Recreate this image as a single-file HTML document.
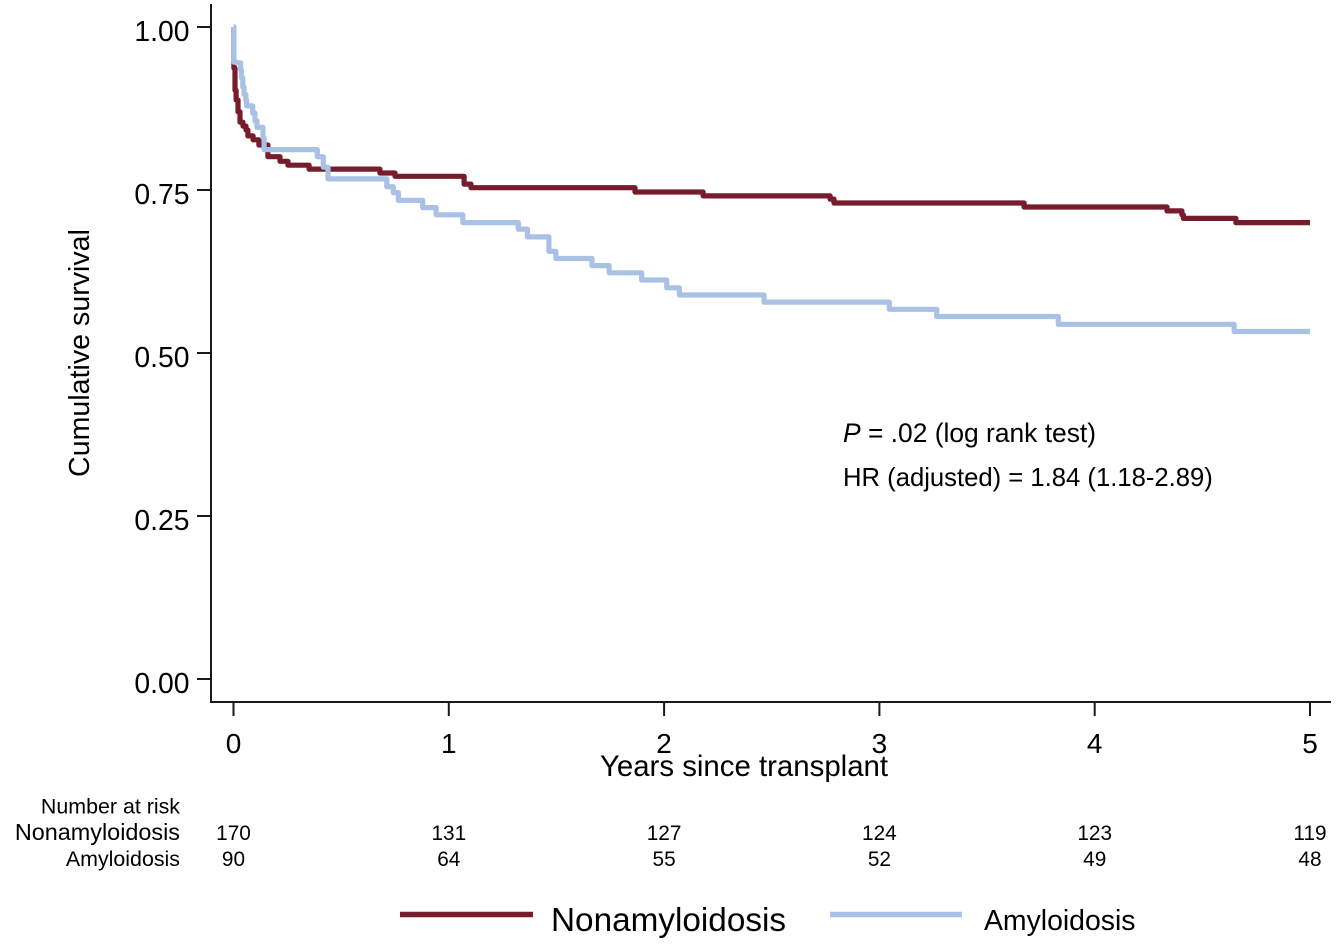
<!DOCTYPE html>
<html lang="en">
<head>
<meta charset="utf-8">
<title>Cumulative survival by amyloidosis status</title>
<style>
html,body{margin:0;padding:0;background:#fff;}
body{width:1341px;height:945px;overflow:hidden;}
svg{display:block;}
text{font-family:"Liberation Sans",Arial,sans-serif;fill:#000;}
</style>
</head>
<body>
<svg id="chart" width="1341" height="945" viewBox="0 0 1341 945" xmlns="http://www.w3.org/2000/svg">
  <rect x="0" y="0" width="1341" height="945" fill="#ffffff"/>
  <line x1="211" y1="4" x2="211" y2="702" stroke="#1a1a1a" stroke-width="2"/>
  <line x1="210" y1="702" x2="1331" y2="702" stroke="#1a1a1a" stroke-width="2"/>
  <g id="ticks"></g>
  <g id="series"></g>
  <text transform="translate(89,353) rotate(-90)" text-anchor="middle" font-size="28.6">Cumulative survival</text>
  <text x="744" y="776" text-anchor="middle" font-size="29.4">Years since transplant</text>
  <text x="843" y="442" font-size="26.4"><tspan font-style="italic">P</tspan> = .02 (log rank test)</text>
  <text x="843" y="486" font-size="25.65">HR (adjusted) = 1.84 (1.18-2.89)</text>
  <text x="180" y="813.5" text-anchor="end" font-size="21.4">Number at risk</text>
  <text x="180" y="840" text-anchor="end" font-size="23.4">Nonamyloidosis</text>
  <text x="180" y="866" text-anchor="end" font-size="21.4">Amyloidosis</text>
  <g id="risk"></g>
  <g>
    <line x1="400" y1="914.5" x2="533" y2="914.5" stroke="#761c2d" stroke-width="5.5"/>
    <text x="551" y="931" font-size="33.3">Nonamyloidosis</text>
    <line x1="830" y1="914.5" x2="962" y2="914.5" stroke="#aac1e6" stroke-width="5.5"/>
    <text x="984" y="930" font-size="28.4">Amyloidosis</text>
  </g>
</svg>
<script>
const xTickValues = [0, 1, 2, 3, 4, 5];
const yTickValues = [0, 0.25, 0.5, 0.75, 1];
const yTickLabels = ["0.00", "0.25", "0.50", "0.75", "1.00"];
const riskTimes = [0, 1, 2, 3, 4, 5];
const riskNonamyloidosis = [170, 131, 127, 124, 123, 119];
const riskAmyloidosis = [90, 64, 55, 52, 49, 48];

const nonamyloidosisTimes = [0, 0.002, 0.007, 0.012, 0.021, 0.030, 0.044, 0.058, 0.067, 0.091, 0.118, 0.160, 0.216, 0.253, 0.351, 0.680, 0.750, 1.071, 1.103, 1.865, 2.181, 2.771, 2.789, 3.672, 4.336, 4.405, 4.412, 4.656, 5];
const nonamyloidosisSurvival = [1, 0.937, 0.903, 0.888, 0.870, 0.854, 0.848, 0.842, 0.833, 0.827, 0.819, 0.801, 0.794, 0.788, 0.782, 0.776, 0.771, 0.759, 0.7535, 0.747, 0.741, 0.736, 0.730, 0.724, 0.718, 0.712, 0.7065, 0.700, 0.700];

const amyloidosisTimes = [0, 0.002, 0.015, 0.033, 0.037, 0.043, 0.049, 0.057, 0.061, 0.089, 0.100, 0.109, 0.137, 0.142, 0.389, 0.417, 0.439, 0.712, 0.742, 0.766, 0.879, 0.941, 1.065, 1.323, 1.365, 1.465, 1.497, 1.665, 1.745, 1.896, 2.012, 2.071, 2.464, 3.046, 3.266, 3.831, 4.648, 5];
const amyloidosisSurvival = [1, 0.946, 0.945, 0.934, 0.922, 0.908, 0.897, 0.888, 0.879, 0.868, 0.856, 0.846, 0.830, 0.812, 0.801, 0.785, 0.767, 0.755, 0.746, 0.734, 0.723, 0.712, 0.700, 0.690, 0.678, 0.656, 0.645, 0.634, 0.623, 0.612, 0.600, 0.589, 0.578, 0.567, 0.556, 0.544, 0.533, 0.533];

const SVG_NS = "http://www.w3.org/2000/svg";
function xScale(t) { return 233.5 + t * 215.3; }
function yScale(s) { return 679 - s * 652; }

function stepPath(times, values) {
  let d = "M" + xScale(times[0]).toFixed(1) + " " + yScale(values[0]).toFixed(1);
  for (let i = 1; i < times.length; i++) {
    d += "H" + xScale(times[i]).toFixed(1) + "V" + yScale(values[i]).toFixed(1);
  }
  return d;
}

const ticksGroup = document.getElementById("ticks");
const seriesGroup = document.getElementById("series");
const riskGroup = document.getElementById("risk");

xTickValues.forEach(function (value) {
  const mark = document.createElementNS(SVG_NS, "line");
  mark.setAttribute("x1", xScale(value));
  mark.setAttribute("x2", xScale(value));
  mark.setAttribute("y1", 702);
  mark.setAttribute("y2", 716);
  mark.setAttribute("stroke", "#1a1a1a");
  mark.setAttribute("stroke-width", 2);
  
  
  ticksGroup.appendChild(mark);
  const label = document.createElementNS(SVG_NS, "text");
  label.setAttribute("x", xScale(value));
  label.setAttribute("y", 753);
  label.setAttribute("text-anchor", "middle");
  label.setAttribute("font-size", 28);
  label.textContent = String(value);
  
  
  ticksGroup.appendChild(label);
});

yTickValues.forEach(function (value, i) {
  const mark = document.createElementNS(SVG_NS, "line");
  mark.setAttribute("x1", 197);
  mark.setAttribute("x2", 211);
  mark.setAttribute("y1", yScale(value));
  mark.setAttribute("y2", yScale(value));
  mark.setAttribute("stroke", "#1a1a1a");
  mark.setAttribute("stroke-width", 2);
  
  
  ticksGroup.appendChild(mark);
  const label = document.createElementNS(SVG_NS, "text");
  label.setAttribute("x", 189.5);
  label.setAttribute("y", yScale(value) + 14);
  label.setAttribute("text-anchor", "end");
  label.setAttribute("font-size", 28.3);
  label.textContent = yTickLabels[i];
  
  
  ticksGroup.appendChild(label);
});

const nonamyloidosisLine = document.createElementNS(SVG_NS, "path");
nonamyloidosisLine.setAttribute("d", stepPath(nonamyloidosisTimes, nonamyloidosisSurvival));
nonamyloidosisLine.setAttribute("fill", "none");
nonamyloidosisLine.setAttribute("stroke", "#761c2d");
nonamyloidosisLine.setAttribute("stroke-width", 5.2);
nonamyloidosisLine.setAttribute("stroke-linejoin", "round");


seriesGroup.appendChild(nonamyloidosisLine);

const amyloidosisLine = document.createElementNS(SVG_NS, "path");
amyloidosisLine.setAttribute("d", stepPath(amyloidosisTimes, amyloidosisSurvival));
amyloidosisLine.setAttribute("fill", "none");
amyloidosisLine.setAttribute("stroke", "#aac1e6");
amyloidosisLine.setAttribute("stroke-width", 5.2);
amyloidosisLine.setAttribute("stroke-linejoin", "round");


seriesGroup.appendChild(amyloidosisLine);

riskTimes.forEach(function (t, i) {
  const top = document.createElementNS(SVG_NS, "text");
  top.setAttribute("x", xScale(t));
  top.setAttribute("y", 840);
  top.setAttribute("text-anchor", "middle");
  top.setAttribute("font-size", 20.8);
  top.textContent = String(riskNonamyloidosis[i]);
  
  
  riskGroup.appendChild(top);
  const bottom = document.createElementNS(SVG_NS, "text");
  bottom.setAttribute("x", xScale(t));
  bottom.setAttribute("y", 866);
  bottom.setAttribute("text-anchor", "middle");
  bottom.setAttribute("font-size", 20.8);
  bottom.textContent = String(riskAmyloidosis[i]);
  
  
  riskGroup.appendChild(bottom);
});
</script>
</body>
</html>
